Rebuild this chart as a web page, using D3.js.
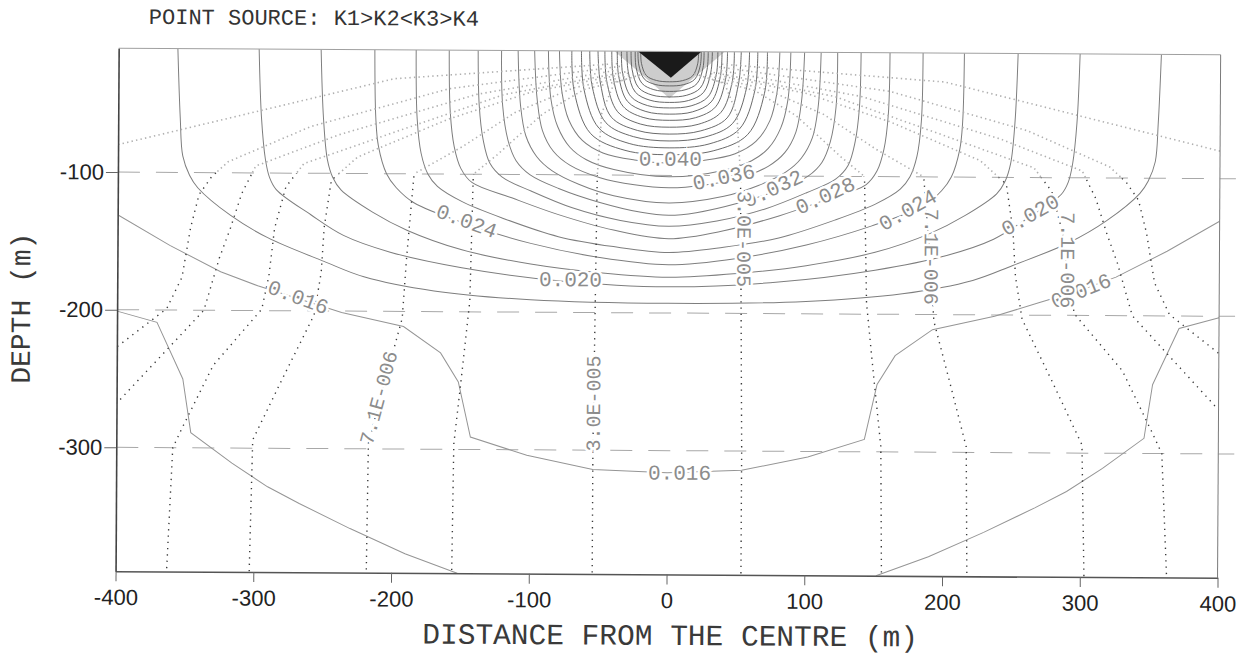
<!DOCTYPE html>
<html><head><meta charset="utf-8">
<script src="https://cdn.jsdelivr.net/npm/d3@7"></script>
<style>
body{margin:0;background:#fff}
svg{display:block}
.mono{font-family:'Liberation Mono','DejaVu Sans Mono',monospace}
.sans{font-family:'Liberation Sans',Arial,sans-serif}
</style>
</head><body>
<svg id="chart" width="1249" height="660"></svg>
<script>
// ---------- DATA ----------
const titleText = "POINT SOURCE: K1>K2<K3>K4";
const xTickValues = [-400,-300,-200,-100,0,100,200,300,400];
const depthTickValues = [-100,-200,-300];
const layerInterfaces = [-100,-200,-300];

// equipotential levels and their left halves [distance, depth]; right half mirrored
const equipotentialLevels = [0.014,0.016,0.018,0.020,0.022,0.024,0.026,0.028,0.030,0.032,0.034,0.036,0.038,0.040,
  0.042,0.044,0.046,0.048,0.050,0.052,0.054,0.056,0.058,0.060,0.062,0.064,0.066];
const equipotentialHalves = [
  [[-400,-201],[-371,-209],[-352,-250],[-346,-289],[-316,-311],[-290,-328],[-267,-340],[-230,-358],[-190,-376],[-152,-390]],
  [[-400,-131],[-362,-153],[-325,-172],[-298,-182],[-269,-191],[-237,-201],[-192,-211],[-165,-230],[-152,-251],[-143,-291],[-102,-304],[-54,-314],[0,-316]],
  [[-357,-10],[-355,-60],[-353,-88],[-348,-102],[-342,-111],[-318,-131],[-291,-147],[-250,-164],[-221,-175],[-170,-185],[-100,-191],[0,-193]],
  [[-298,-10],[-296,-60],[-293,-90],[-290,-103],[-285,-112],[-260,-130],[-236,-145],[-202,-157],[-150,-168],[-80,-177],[0,-181]],
  [[-253,-10],[-251,-60],[-248,-90],[-244,-103],[-238,-112],[-215,-128],[-190,-141],[-150,-155],[-100,-165],[-50,-171],[0,-174]],
  [[-214,-10],[-213,-60],[-211,-80],[-205,-100],[-198,-110],[-185,-121],[-147,-136],[-100,-150],[-50,-160],[0,-165]],
  [[-184,-10],[-183,-60],[-180,-85],[-175,-100],[-168,-109],[-150,-120],[-120,-132],[-80,-145],[-40,-152],[0,-156]],
  [[-160,-10],[-159,-55],[-156,-80],[-151,-96],[-143,-106],[-114,-117],[-80,-129],[-40,-140],[0,-146]],
  [[-139,-10],[-138,-50],[-135,-75],[-130,-92],[-121,-102],[-100,-112],[-70,-124],[-35,-133],[0,-137]],
  [[-122,-10],[-121,-50],[-117,-75],[-111,-90],[-101,-100],[-80,-110],[-50,-120],[-20,-127],[0,-129]],
  [[-110,-10],[-108,-50],[-104,-72],[-96,-87],[-85,-97],[-65,-107],[-40,-115],[0,-120]],
  [[-98,-10],[-96,-45],[-92,-68],[-84,-83],[-72,-93],[-50,-102],[-25,-107],[0,-109]],
  [[-88,-10],[-86,-45],[-81,-65],[-72,-80],[-60,-89],[-40,-96],[0,-101]],
  [[-80,-10],[-78,-40],[-73,-60],[-63,-75],[-48,-84],[-25,-89],[0,-91]],
  [[-71,-10],[-69,-40],[-57,-70],[-32,-82],[0,-85]],
  [[-64,-10],[-62,-38],[-51,-66],[-29,-77],[0,-80]],
  [[-58,-10],[-56,-36],[-46,-62],[-26,-72],[0,-75]],
  [[-52,-10],[-50,-34],[-42,-58],[-23,-67.5],[0,-70]],
  [[-47,-10],[-45.5,-32],[-37.5,-54],[-21,-62.8],[0,-65]],
  [[-42,-10],[-40.7,-30],[-33.6,-50],[-19,-58],[0,-60]],
  [[-38,-10],[-36.9,-28],[-30.4,-46.4],[-17,-53.7],[0,-55.5]],
  [[-35,-10],[-34,-26.4],[-28,-42.8],[-15.8,-49.4],[0,-51]],
  [[-31,-10],[-30,-24.8],[-24.8,-39.6],[-14,-45.5],[0,-47]],
  [[-28,-10],[-27.2,-23.2],[-22.4,-36.4],[-12.6,-41.7],[0,-43]],
  [[-25,-10],[-24.3,-21.6],[-20,-33.2],[-11.3,-37.8],[0,-39]],
  [[-23,-10],[-22.3,-20],[-18.4,-30],[-10.4,-34],[0,-35]],
  [[-21,-10],[-20.4,-18.8],[-16.8,-27.6],[-9.5,-31.1],[0,-32]]
];

// stream (flow) lines, left halves from the source outward; right half mirrored
const streamlineHalves = [
  [[-18,-26],[-40,-33],[-49,-55],[-52,-100],[-53,-200],[-54,-300],[-54,-390]],
  [[-22,-28],[-62,-38],[-92,-56],[-125,-86],[-142,-100],[-144,-192],[-150,-250],[-155,-296],[-156,-390]],
  [[-26,-27],[-70,-37],[-112,-55],[-150,-80],[-185,-100],[-190,-160],[-193,-205],[-205,-250],[-217,-296],[-218,-390]],
  [[-30,-26],[-100,-40],[-160,-60],[-226,-88],[-245,-105],[-250,-139],[-252,-172],[-257,-203],[-280,-250],[-301,-294],[-303,-390]],
  [[-32,-25],[-120,-42],[-200,-70],[-265,-93],[-278,-110],[-286,-140],[-290,-175],[-295,-199],[-330,-240],[-352,-285],[-359,-300],[-363,-390]],
  [[-34,-23],[-140,-42],[-240,-72],[-300,-95],[-310,-115],[-318,-140],[-326,-162],[-337,-200],[-400,-268]],
  [[-36,-21],[-160,-38],[-260,-66],[-320,-92],[-332,-103],[-341,-116],[-347,-140],[-353,-176],[-364,-199],[-400,-227]],
  [[-38,-19],[-200,-31],[-355,-69],[-400,-80]]
];

// dense region right under the source
const denseZone = [[-40,-10],[40,-10],[0,-44]];
const sourceCore = [[-23,-10],[23,-10],[1,-29]];

// labels: [text, distance, depth, angle]
const equipotentialLabels = [
  ["0.040",1,-89,0],["0.036",40,-102,-12],["0.032",76,-110,-25],["0.028",114,-115,-25],
  ["0.024",174,-125,-30],["0.020",263,-128,-30],["0.016",300,-183,-22],
  ["0.024",-147,-135,20],["0.020",-71,-177,0],["0.016",-269,-191,20],["0.016",9,-317,0]
];
const streamLabels = [
  ["3.0E-005",-53,-266,-90],["7.1E-006",-209,-263,-75],
  ["3.0E-005",54,-146,90],["7.1E-006",190,-158,90],["7.1E-006",289,-160,90]
];

// ---------- DRAWING ----------
const svg = d3.select("#chart");
const root = svg.append("g").attr("transform","rotate(0.34,668,330)");
const x = d3.scaleLinear().domain([-400,400]).range([117,1219]);
const y = d3.scaleLinear().domain([-10,-390]).range([51.5,574.5]);
const [x0,x1] = x.range(), [y0,y1] = y.range();

const defs = svg.append("defs");
defs.append("clipPath").attr("id","plot").append("rect")
  .attr("x",x0).attr("y",y0).attr("width",x1-x0).attr("height",y1-y0);
defs.append("clipPath").attr("id","upper").append("rect")
  .attr("x",x0).attr("y",y0).attr("width",x1-x0).attr("height",y(-100)-y0);
defs.append("clipPath").attr("id","lower").append("rect")
  .attr("x",x0).attr("y",y(-100)).attr("width",x1-x0).attr("height",y1-y(-100));

const mirror = half => {
  const last = half[half.length-1];
  if (last[0] === 0) {
    return [half.concat(half.slice(0,-1).reverse().map(([a,b]) => [-a,b]))];
  }
  return [half, half.map(([a,b]) => [-a,b])];
};
const smooth = d3.line().x(d => x(d[0])).y(d => y(d[1])).curve(d3.curveCatmullRom.alpha(0.5));
const poly = d3.line().x(d => x(d[0])).y(d => y(d[1]));

// layer interfaces (dashed)
root.append("g").selectAll("line").data(layerInterfaces).join("line")
  .attr("x1",x0).attr("x2",x1+16).attr("y1",d=>y(d)).attr("y2",d=>y(d))
  .attr("stroke","#a8a8a8").attr("stroke-width",1).attr("stroke-dasharray","22,16");

const plot = root.append("g").attr("clip-path","url(#plot)");

plot.append("path").attr("d", poly(denseZone) + "Z").attr("fill","#cdcdcd");

// equipotentials
const eqLines = [];
equipotentialHalves.forEach((h,i) => mirror(h).forEach(p => eqLines.push({lv:equipotentialLevels[i], pts:p})));
plot.append("g").selectAll("path").data(eqLines).join("path")
  .attr("d", d => d.lv <= 0.016 ? poly(d.pts) : smooth(d.pts))
  .attr("fill","none")
  .attr("stroke", d => d.lv <= 0.016 ? "#959595" : (d.lv > 0.040 ? "#5a5a5a" : "#7e7e7e"))
  .attr("stroke-width", d => d.lv > 0.040 ? 0.9 : 1);

plot.append("path").attr("d", poly(sourceCore) + "Z").attr("fill","#1a1a1a");

// stream lines
const stLines = [];
streamlineHalves.forEach(h => mirror(h).forEach(p => stLines.push(p)));
const stUp = root.append("g").attr("clip-path","url(#upper)");
stUp.selectAll("path").data(stLines).join("path")
  .attr("d", poly).attr("fill","none").attr("stroke","#b0b0b0")
  .attr("stroke-width",1.6).attr("stroke-dasharray","1.4,3.2");
const stLo = root.append("g").attr("clip-path","url(#lower)");
stLo.selectAll("path").data(stLines).join("path")
  .attr("d", poly).attr("fill","none").attr("stroke","#3a3a3a")
  .attr("stroke-width",1.4).attr("stroke-dasharray","1.3,5");

// frame
root.append("line").attr("x1",x0).attr("x2",x1).attr("y1",y0).attr("y2",y0).attr("stroke","#a0a0a0");
root.append("line").attr("x1",x1).attr("x2",x1).attr("y1",y0).attr("y2",y1).attr("stroke","#7a7a7a");

// labels
const labelStyle = sel => sel.attr("class","mono").attr("font-size",21).attr("fill","#8c8c8c")
  .attr("text-anchor","middle").attr("dominant-baseline","central")
  .attr("stroke","#fff").attr("stroke-width",5).attr("paint-order","stroke");
root.append("g").selectAll("text").data(equipotentialLabels).join("text")
  .attr("transform", d => `translate(${x(d[1])},${y(d[2])}) rotate(${d[3]})`)
  .text(d => d[0]).call(labelStyle);
root.append("g").selectAll("text").data(streamLabels).join("text")
  .attr("transform", d => `translate(${x(d[1])},${y(d[2])}) rotate(${d[3]})`)
  .text(d => d[0]).call(labelStyle).attr("font-size",20);

// axes
const xAxis = root.append("g").attr("transform",`translate(0,${y1})`)
  .call(d3.axisBottom(x).tickValues(xTickValues).tickFormat(d => String(d)).tickSize(10).tickSizeOuter(0).tickPadding(8));
const yAxis = root.append("g").attr("transform",`translate(${x0},0)`)
  .call(d3.axisLeft(y).tickValues(depthTickValues).tickFormat(d => String(d)).tickSize(12).tickSizeOuter(0).tickPadding(2));
[xAxis,yAxis].forEach(a => {
  a.selectAll("text").attr("class","sans").attr("font-size",22).attr("fill","#222");
  a.selectAll("line").attr("stroke","#666");
});
xAxis.select(".domain").attr("stroke","#555").attr("stroke-width",1.6);
yAxis.select(".domain").attr("stroke","#444").attr("stroke-width",1.6);

// titles
root.append("text").attr("class","mono").attr("x",147).attr("y",27).attr("font-size",22)
  .attr("fill","#333").text(titleText);
root.append("text").attr("class","mono").attr("x",672).attr("y",645).attr("font-size",29.5)
  .attr("fill","#3a3a3a").attr("text-anchor","middle").text("DISTANCE FROM THE CENTRE (m)");
root.append("text").attr("class","mono").attr("transform","translate(30,312) rotate(-90)")
  .attr("font-size",28).attr("fill","#3a3a3a").attr("text-anchor","middle").text("DEPTH (m)");
</script>
</body></html>
